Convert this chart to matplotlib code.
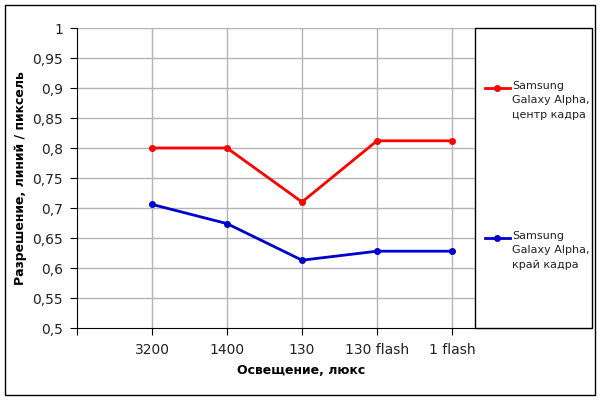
import matplotlib
matplotlib.use("Agg")
import matplotlib.pyplot as plt
from matplotlib.lines import Line2D
from matplotlib.patches import Rectangle

plt.rcParams['font.family'] = ['DejaVu Sans']

categories = ['', '3200', '1400', '130', '130 flash', '1 flash']
center = [0.80, 0.80, 0.71, 0.812, 0.812]   # центр кадра
edge = [0.706, 0.674, 0.613, 0.628, 0.628]  # край кадра
yticks = [0.5, 0.55, 0.6, 0.65, 0.7, 0.75, 0.8, 0.85, 0.9, 0.95, 1.0]
ylabels = ['0,5', '0,55', '0,6', '0,65', '0,7', '0,75', '0,8', '0,85', '0,9', '0,95', '1']
label_center = 'Samsung\nGalaxy Alpha,\nцентр кадра'
label_edge = 'Samsung\nGalaxy Alpha,\nкрай кадра'

RED = '#ff0000'
BLUE = '#0000cc'

fig = plt.figure(figsize=(6, 4), dpi=100)
ax = fig.add_axes([77 / 600, 72 / 400, 515 / 600, 300 / 400])

xs = list(range(1, len(center) + 1))
ax.plot(xs, center, color=RED, lw=2, marker='o', ms=4, zorder=3)
ax.plot(xs, edge, color=BLUE, lw=2, marker='o', ms=4, zorder=3)

ax.set_ylim(0.5, 1.0)
ax.set_xlim(0, 515 / 75)
ax.set_yticks(yticks)
ax.set_yticklabels(ylabels, fontsize=10, color='#222222')
ax.set_xticks(range(len(categories)))
ax.set_xticklabels(categories, fontsize=10, color='#222222')
ax.tick_params(direction='out', length=5, color='black')
ax.tick_params(axis='x', pad=6)
ax.tick_params(axis='y', pad=5)

# сетка только до легенды
for y in yticks[1:]:
    ax.plot([0, 398 / 75], [y, y], color='#b4b4b4', lw=1, zorder=1)
for x in xs:
    ax.axvline(x, color='#b4b4b4', lw=1, zorder=1)

ax.spines['top'].set_visible(False)
ax.spines['right'].set_visible(False)
ax.spines['left'].set_color('black')
ax.spines['bottom'].set_color('black')

# рамка легенды
fig.patches.append(Rectangle((475 / 600, 72 / 400), 117 / 600, 300 / 400,
                             transform=fig.transFigure, facecolor='white',
                             edgecolor='black', lw=1, zorder=5))


def legend_entry(ytop, color, text):
    yy = 1 - ytop / 400
    fig.add_artist(Line2D([485 / 600, 510 / 600], [yy, yy], color=color, lw=2,
                          transform=fig.transFigure, zorder=6))
    fig.add_artist(Line2D([497 / 600], [yy], color=color, marker='o', ms=4,
                          transform=fig.transFigure, zorder=6))
    fig.text(512 / 600, 1 - (ytop - 7) / 400, text, ha='left', va='top',
             fontsize=8, linespacing=1.55, color='#222222', zorder=7)


legend_entry(88, RED, label_center)
legend_entry(238, BLUE, label_edge)

fig.text(301 / 600, 1 - 371 / 400, 'Освещение, люкс', ha='center', va='center',
         fontsize=9, fontweight='bold')
fig.text(21 / 600, 1 - 178 / 400, 'Разрешение, линий / пиксель', ha='center',
         va='center', rotation=90, fontsize=9, fontweight='bold')

fig.patches.append(Rectangle((5 / 600, 5 / 400), 590 / 600, 390 / 400,
                             transform=fig.transFigure, fill=False,
                             edgecolor='black', lw=1))

fig.savefig('out.png', dpi=100)
